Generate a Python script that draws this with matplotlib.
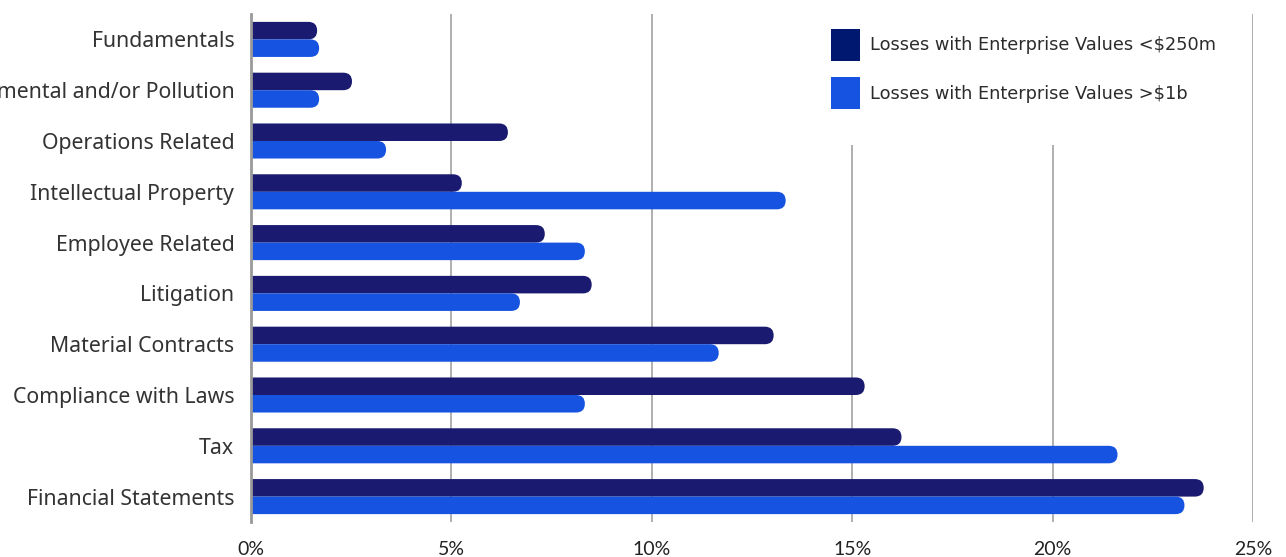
import matplotlib
matplotlib.use("Agg")
import matplotlib.pyplot as plt
from matplotlib.patches import FancyBboxPatch, Patch, Rectangle
from matplotlib.ticker import FuncFormatter

categories = [
    "Fundamentals",
    "Environmental and/or Pollution",
    "Operations Related",
    "Intellectual Property",
    "Employee Related",
    "Litigation",
    "Material Contracts",
    "Compliance with Laws",
    "Tax",
    "Financial Statements",
]
small_ev = [1.65, 2.52, 6.41, 5.26, 7.33, 8.5, 13.04, 15.31, 16.23, 23.77]
large_ev = [1.7, 1.7, 3.37, 13.34, 8.33, 6.71, 11.67, 8.33, 21.62, 23.29]
series_names = [
    "Losses with Enterprise Values <$250m",
    "Losses with Enterprise Values >$1b",
]
ticks = [0, 5, 10, 15, 20, 25]

DARK = "#1a1a70"
LIGHT = "#1553e0"

W, H = 1286, 557
fig = plt.figure(figsize=(W / 100, H / 100), dpi=100)
ax = fig.add_axes([251 / W, 1 - 522 / H, (1253 - 251) / W, (522 - 14) / H])

ax.set_xlim(0, 25)
ax.set_ylim(9.5, -0.5)

bar_h = 0.345
# x units per pixel / y units per pixel
x_per_px = 25 / (1253 - 251)
y_per_px = 10 / (522 - 14)
aspect = y_per_px / x_per_px
r = (bar_h / 2) / aspect

def rounded_bar(y, value, color):
    p = FancyBboxPatch(
        (-1, y - bar_h / 2), value + 1, bar_h,
        boxstyle="round,pad=0,rounding_size=%f" % r,
        mutation_aspect=aspect,
        facecolor=color, edgecolor="none", zorder=3,
    )
    ax.add_patch(p)

for i in range(len(categories)):
    rounded_bar(i - bar_h / 2, small_ev[i], DARK)
    rounded_bar(i + bar_h / 2, large_ev[i], LIGHT)

ax.set_yticks(range(len(categories)))
ax.set_yticklabels(categories, fontfamily="Noto Sans", fontsize=15.3, color="#333333")
ax.set_xticks(ticks)
ax.xaxis.set_major_formatter(FuncFormatter(lambda v, p: "%d%%" % v))
for lbl in ax.get_xticklabels():
    lbl.set_fontfamily("Lato")
    lbl.set_fontsize(14)
    lbl.set_color("#222222")
ax.tick_params(axis="y", length=0, pad=12)
ax.tick_params(axis="x", length=0, pad=14)

ax.grid(axis="x", color="#9a9a9a", linewidth=1.1, zorder=0)
ax.set_axisbelow(True)
for s in ["top", "right", "bottom"]:
    ax.spines[s].set_visible(False)
ax.spines["left"].set_color("#999999")
ax.spines["left"].set_linewidth(2)
ax.spines["left"].set_zorder(4)

# white panel behind the legend hides the grid lines there
ax.add_patch(Rectangle(((816 - 251) / 1002, 1 - (145 - 14) / 508),
                       (1240 - 816) / 1002, (145 - 14) / 508,
                       transform=ax.transAxes, facecolor="white",
                       edgecolor="none", zorder=1))

handles = [Patch(facecolor="#00186f", edgecolor="none"),
           Patch(facecolor=LIGHT, edgecolor="none")]
leg = ax.legend(
    handles, series_names,
    loc="upper left", bbox_to_anchor=((816 - 251) / 1002, 1.0),
    frameon=True, facecolor="white", edgecolor="none", framealpha=1,
    prop={"family": "DejaVu Sans", "size": 12.8},
    handlelength=1.67, handleheight=2.38, handletextpad=0.55,
    labelspacing=0.94, borderpad=0.83, borderaxespad=0,
    labelcolor="#2b2b2b",
)
leg.set_zorder(5)

fig.savefig("out.png", dpi=100, facecolor="white")
